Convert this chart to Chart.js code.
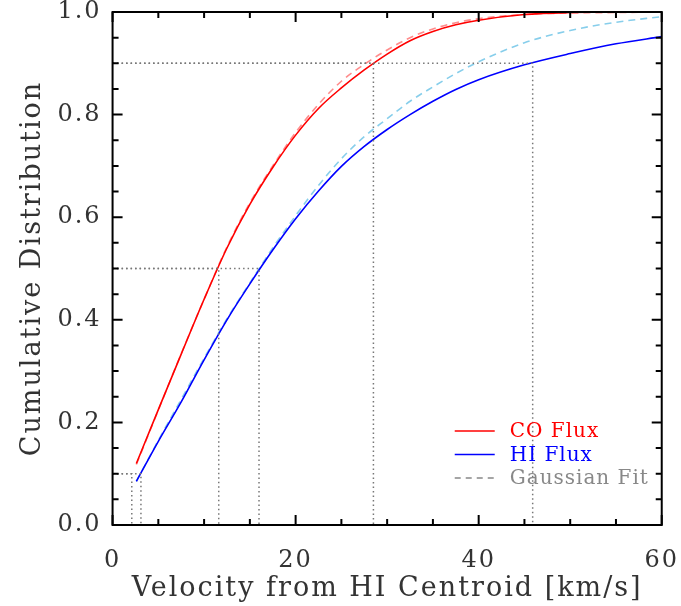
<!DOCTYPE html>
<html>
<head>
<meta charset="utf-8">
<script src="https://cdn.jsdelivr.net/npm/chart.js@4/dist/chart.umd.min.js"></script>
<style>
  html, body { margin: 0; padding: 0; background: #fff; }
  #wrap { width: 681px; height: 606px; }
</style>
</head>
<body>
<div id="wrap"><canvas id="cdfChart" width="681" height="606"></canvas></div>
<script>
// velocity grid (km/s) and cumulative fractions
const velocity = [2.6, 5, 7.5, 10, 12.5, 15, 17.5, 20, 22.5, 25, 27.5, 30, 32.5, 35, 37.5, 40, 45, 50, 55, 60];
const coFlux = [0.12, 0.225, 0.333, 0.44, 0.54, 0.625, 0.697, 0.76, 0.812, 0.852, 0.887, 0.918, 0.944, 0.962, 0.975, 0.984, 0.995, 0.999, 1.0, 1.0];
const coFit = [0.118, 0.224, 0.334, 0.44, 0.542, 0.628, 0.70, 0.765, 0.82, 0.865, 0.898, 0.926, 0.95, 0.967, 0.979, 0.987, 0.995, 0.998, 0.999, 1.0];
const hiFlux = [0.085, 0.163, 0.24, 0.322, 0.40, 0.47, 0.536, 0.597, 0.651, 0.699, 0.738, 0.771, 0.80, 0.826, 0.849, 0.868, 0.897, 0.919, 0.938, 0.952];
const hiFit = [0.085, 0.165, 0.245, 0.325, 0.402, 0.472, 0.54, 0.603, 0.662, 0.714, 0.757, 0.792, 0.826, 0.854, 0.88, 0.903, 0.94, 0.964, 0.98, 0.991];

// fractions marked with dotted guides, and the velocities where each curve reaches them
const guideLevels = [0.1, 0.5, 0.9];
const coCross = [2.1, 11.6, 28.5];
const hiCross = [3.1, 16.0, 45.9];

const xTicks = [0, 20, 40, 60];
const yTicks = [0.0, 0.2, 0.4, 0.6, 0.8, 1.0];

const SERIF = '"DejaVu Serif", "Liberation Serif", serif';
const INK = '#333';

function pts(xs, ys) {
    return xs.map((x, i) => ({ x: x, y: ys[i] }));
}

function guide(level, cross) {
    return {
        data: [{ x: 0, y: level }, { x: cross, y: level }, { x: cross, y: 0 }],
        borderColor: '#777',
        borderWidth: 1.5,
        borderDash: [1.5, 3],
        pointRadius: 0,
        fill: false,
        tension: 0
    };
}

const curve = (label, ys, color, dash) => ({
    label: label,
    data: pts(velocity, ys),
    borderColor: color,
    borderWidth: 1.6,
    borderDash: dash,
    pointRadius: 0,
    cubicInterpolationMode: 'monotone'
});

const datasets = [];
guideLevels.forEach((lv, i) => {
    datasets.push(guide(lv, coCross[i]));
    datasets.push(guide(lv, hiCross[i]));
});
datasets.push(curve('CO Flux', coFlux, '#ff0000', []));
datasets.push(curve('HI Flux', hiFlux, '#0000ff', []));
datasets.push(curve('CO Fit', coFit, '#ff8c8c', [7, 5]));
datasets.push(curve('HI Fit', hiFit, '#87ceeb', [7, 5]));

// wide letter spacing, closer to the plotting font of the original
// (set after the canvas is sized, since resizing resets the context)
const spacingPlugin = {
    id: 'spacing',
    beforeUpdate(chart) {
        chart.ctx.letterSpacing = '2px';
    }
};

// IDL-style frame with inward ticks on all four sides
const framePlugin = {
    id: 'frame',
    afterDraw(chart) {
        const ctx = chart.ctx;
        const a = chart.chartArea;
        const sx = chart.scales.x, sy = chart.scales.y;
        ctx.save();
        ctx.strokeStyle = '#000';
        ctx.lineWidth = 2;
        ctx.strokeRect(a.left, a.top, a.right - a.left, a.bottom - a.top);
        ctx.beginPath();
        sx.ticks.forEach(t => {
            const px = sx.getPixelForValue(t.value);
            const len = xTicks.includes(t.value) ? 10 : 6;
            ctx.moveTo(px, a.bottom); ctx.lineTo(px, a.bottom - len);
            ctx.moveTo(px, a.top); ctx.lineTo(px, a.top + len);
        });
        sy.ticks.forEach(t => {
            const py = sy.getPixelForValue(t.value);
            const len = t.label !== '' ? 10 : 6;
            ctx.moveTo(a.left, py); ctx.lineTo(a.left + len, py);
            ctx.moveTo(a.right, py); ctx.lineTo(a.right - len, py);
        });
        ctx.stroke();
        ctx.restore();
    }
};

// legend in the lower right of the plot box
const legendPlugin = {
    id: 'boxLegend',
    afterDraw(chart) {
        const ctx = chart.ctx;
        const a = chart.chartArea;
        const items = [
            { text: 'CO Flux', color: '#ff0000', line: '#ff0000', dash: [] },
            { text: 'HI Flux', color: '#0000ff', line: '#0000ff', dash: [] },
            { text: 'Gaussian Fit', color: '#888', line: '#888', dash: [6, 5] }
        ];
        ctx.save();
        ctx.font = '20px ' + SERIF;
        ctx.letterSpacing = '1px';
        ctx.textBaseline = 'middle';
        items.forEach((it, i) => {
            const y = a.bottom - 94 + i * 23.5;
            ctx.strokeStyle = it.line;
            ctx.lineWidth = 1.6;
            ctx.setLineDash(it.dash);
            ctx.beginPath();
            ctx.moveTo(a.right - 207, y);
            ctx.lineTo(a.right - 167, y);
            ctx.stroke();
            ctx.fillStyle = it.color;
            ctx.fillText(it.text, a.right - 152, y + 1);
        });
        ctx.restore();
    }
};

new Chart(document.getElementById('cdfChart').getContext('2d'), {
    type: 'line',
    data: { datasets: datasets },
    options: {
        responsive: false,
        animation: false,
        layout: { padding: { left: 17, right: 4, top: 0, bottom: 4 } },
        plugins: { legend: { display: false }, tooltip: { enabled: false } },
        scales: {
            x: {
                type: 'linear',
                min: 0, max: 60,
                border: { display: false },
                // hidden grid; tickLength only sets the gap to the labels
                grid: { display: false, tickLength: 22 },
                ticks: {
                    stepSize: 5,
                    autoSkip: false,
                    maxRotation: 0,
                    padding: 2,
                    color: INK,
                    font: { family: SERIF, size: 24, lineHeight: 1 },
                    callback: v => xTicks.includes(v) ? String(v) : ''
                },
                title: {
                    display: true,
                    text: 'Velocity from HI Centroid [km/s]',
                    color: INK,
                    font: { family: SERIF, size: 27, lineHeight: 1 },
                    padding: { top: 0, bottom: 0 }
                }
            },
            y: {
                min: 0, max: 1,
                border: { display: false },
                grid: { display: false, tickLength: 11 },
                ticks: {
                    stepSize: 0.05,
                    autoSkip: false,
                    padding: 0,
                    color: INK,
                    font: { family: SERIF, size: 24, lineHeight: 1 },
                    callback: v => {
                        const hit = yTicks.find(t => Math.abs(t - v) < 1e-6);
                        return hit !== undefined ? hit.toFixed(1) : '';
                    }
                },
                title: {
                    display: true,
                    text: 'Cumulative Distribution',
                    color: INK,
                    font: { family: SERIF, size: 27 },
                    padding: { top: 0, bottom: 8 }
                }
            }
        }
    },
    plugins: [spacingPlugin, framePlugin, legendPlugin]
});
</script>
</body>
</html>
